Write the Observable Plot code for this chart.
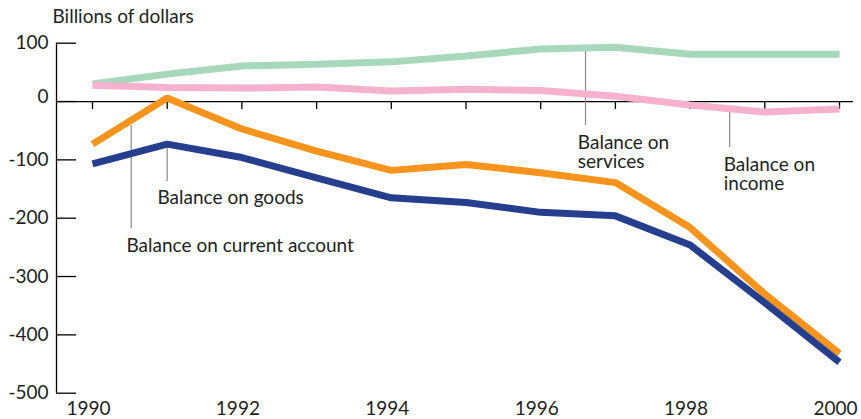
<!DOCTYPE html>
<html>
<head>
<meta charset="utf-8">
<script src="https://cdn.jsdelivr.net/npm/d3@7"></script>
<script src="https://cdn.jsdelivr.net/npm/@observablehq/plot@0.6"></script>
<style>
  html, body { margin: 0; padding: 0; background: #fff; }
</style>
</head>
<body>
<div id="chart"></div>
<script>
// ---- data ----
const years = [1990, 1991, 1992, 1993, 1994, 1995, 1996, 1997, 1998, 1999, 2000];
const services = [30, 47, 61, 64, 68, 78, 90, 93, 81, 81, 81];
const income = [28, 24, 23, 25, 18, 21, 19, 9, -6, -18, -13];
const currentAccount = [-73, 6, -47, -85, -118, -108, -122, -139, -216, -330, -432];
const goods = [-107, -73, -96, -131, -165, -173, -190, -196, -246, -345, -447];

const yTicks = [-500, -400, -300, -200, -100, 0, 100];
const xLabelYears = [1990, 1992, 1994, 1996, 1998, 2000];
const title = "Billions of dollars";

// annotation labels (anchor in data units) and leader lines
const labelText = ["Balance on goods", "Balance on current account", "Balance on\nservices", "Balance on\nincome"];
const labelX = [1990.87, 1990.455, 1996.497, 1998.45];
const labelY = [-175, -258, -113.5, -151];
const leaderX = [1991, 1990.518, 1996.6, 1998.53];
const leaderY1 = [-79, -41, 94, -12];
const leaderY2 = [-137, -218, -41, -79];

// ---- build tables ----
const series = [
  {name: "services", values: services, color: "#a7d8bb"},
  {name: "income", values: income, color: "#f5b2cf"},
  {name: "current", values: currentAccount, color: "#f7941e"},
  {name: "goods", values: goods, color: "#253f8e"}
];
const labels = labelText.map((t, i) => ({t, x: labelX[i], y: labelY[i]}));
const leaders = leaderX.map((x, i) => ({x, y1: leaderY1[i], y2: leaderY2[i]}));

const lineOpts = {strokeWidth: 7, strokeLinejoin: "miter", strokeLinecap: "butt"};
const ink = "#231f20";
const fs = 19;

const chart = Plot.plot({
  width: 861,
  height: 419,
  marginLeft: 56,
  marginRight: 8,
  marginTop: 42.7,
  marginBottom: 26.3,
  style: {fontFamily: "Lato, 'Open Sans', sans-serif", fontSize: fs + "px", color: ink, background: "#fff"},
  x: {domain: [1990, 2000], range: [92, 839]},
  y: {domain: [-500, 100], range: [392.7, 42.7]},
  marks: [
    // y axis line
    Plot.ruleX([1990], {x: d => d, dx: -36, y1: -500, y2: 100, stroke: "#000", strokeWidth: 1.3}),
    // y tick marks pointing right
    Plot.tickY(yTicks, {y: d => d, insetRight: 777, stroke: "#000", strokeWidth: 1.3}),
    // y tick labels
    Plot.axisY({ticks: yTicks.filter(d => d !== 0), tickSize: 0, tickPadding: 8, tickFormat: d => String(d), label: null, fill: ink, fontSize: fs}),
    Plot.axisY({ticks: [0], tickSize: 0, tickPadding: 8, dy: -5, tickFormat: d => String(d), label: null, fill: ink, fontSize: fs}),
    // zero line
    Plot.ruleY([0], {stroke: "#000", strokeWidth: 1.3}),
    // x ticks on zero line
    Plot.ruleX(years, {x: d => d, y1: 0, y2: 0, insetBottom: -8, stroke: "#000", strokeWidth: 1.3}),
    // x labels at bottom
    Plot.axisX({ticks: xLabelYears, tickSize: 0, tickPadding: 8, dx: -4, tickFormat: d => String(d), label: null, fill: ink, fontSize: fs}),
    // leader lines
    Plot.ruleX(leaders, {x: "x", y1: "y1", y2: "y2", stroke: "#8a8a8a", strokeWidth: 1.2}),
    // series lines
    ...series.map(s => Plot.line(s.values, {x: (d, i) => years[i], y: d => d, stroke: s.color, ...lineOpts})),
    // annotation labels
    Plot.text(labels, {x: "x", y: "y", text: "t", textAnchor: "start", lineAnchor: "bottom", lineHeight: 1, fill: ink, fontSize: fs, style: "letter-spacing:0.2px"}),
    // title
    Plot.text([title], {frameAnchor: "top-left", dx: -4, dy: -20, lineAnchor: "bottom", textAnchor: "start", fill: ink, fontSize: fs})
  ]
});
document.getElementById("chart").appendChild(chart);
</script>
</body>
</html>
